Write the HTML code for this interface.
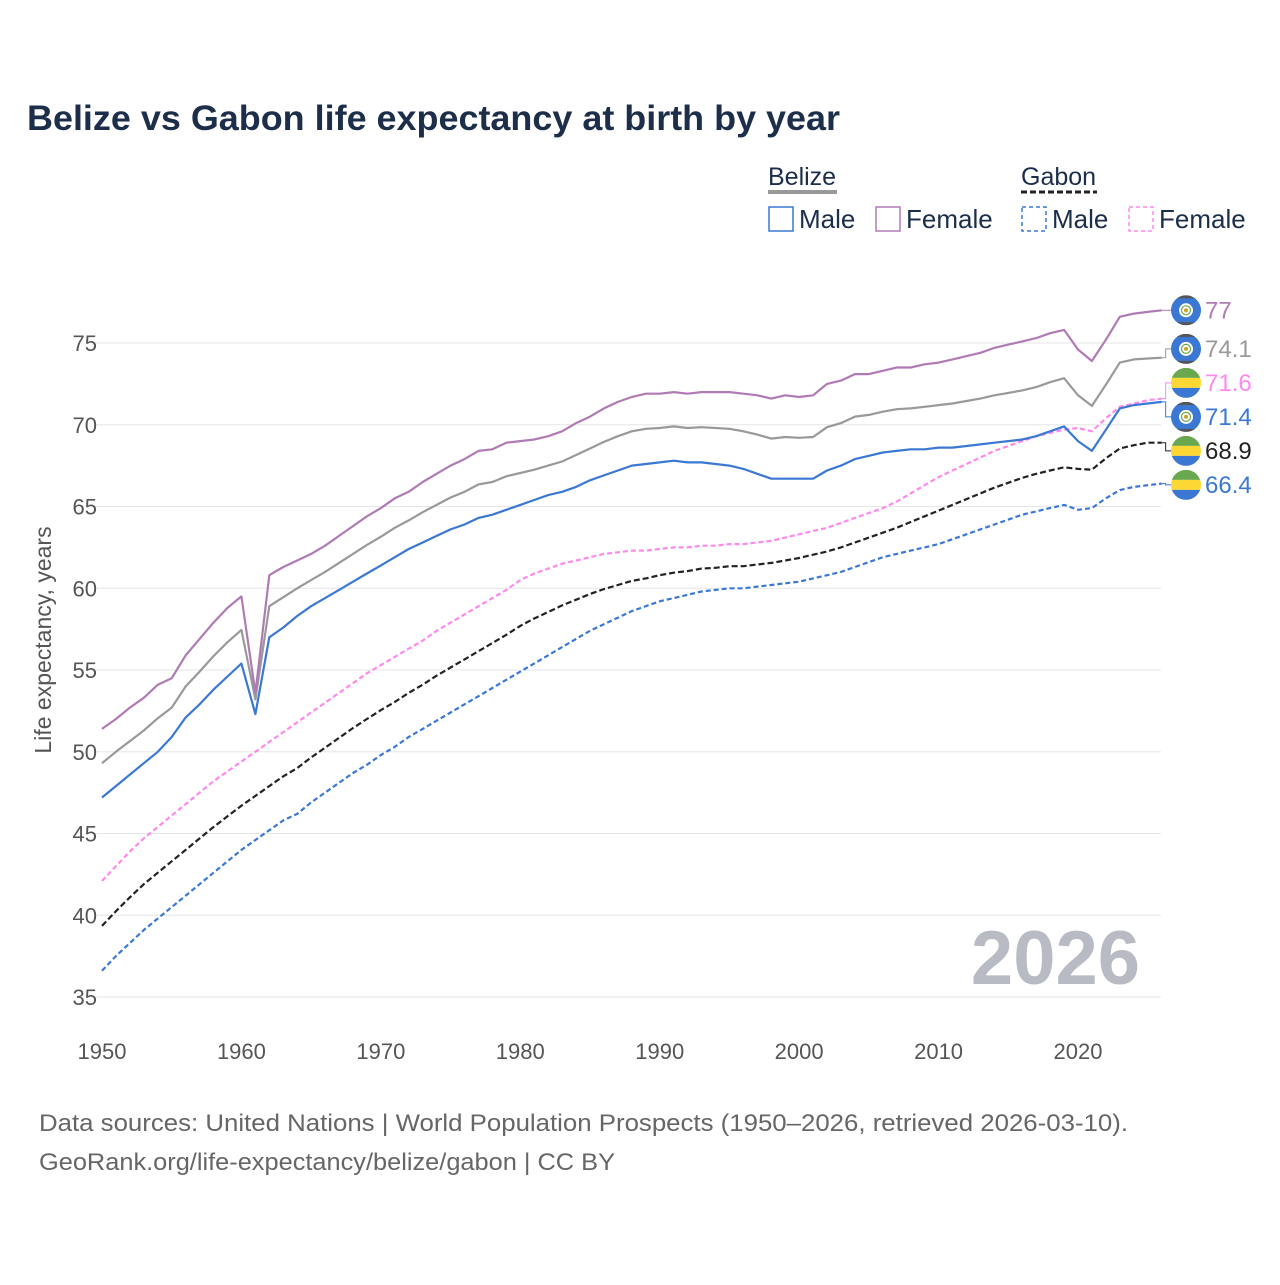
<!DOCTYPE html>
<html><head><meta charset="utf-8"><style>
body{margin:0;background:#fff;width:1280px;height:1280px;overflow:hidden;font-family:"Liberation Sans",sans-serif}
</style></head><body>
<svg id="chart" width="1280" height="1280" viewBox="0 0 1280 1280" xmlns="http://www.w3.org/2000/svg" font-family="Liberation Sans, sans-serif">
<text x="27" y="130" font-size="35" font-weight="bold" fill="#1c2e4a" textLength="813" lengthAdjust="spacingAndGlyphs">Belize vs Gabon life expectancy at birth by year</text>
<g font-size="25" fill="#1c2e4a">
 <text x="768" y="185" fill="#1c2e4a">Belize</text>
 <line x1="768" y1="192" x2="837" y2="192" stroke="#999" stroke-width="4"/>
 <text x="1021" y="185" fill="#1c2e4a">Gabon</text>
 <line x1="1021" y1="192" x2="1097" y2="192" stroke="#222" stroke-width="3" stroke-dasharray="6,3"/>
 <g><rect x="769" y="207" width="24" height="24" fill="none" stroke="#3a78d4" stroke-width="1.5"/><text x="799" y="228" font-size="26">Male</text></g>
 <g><rect x="876" y="207" width="24" height="24" fill="none" stroke="#b07ab5" stroke-width="1.5"/><text x="906" y="228" font-size="26">Female</text></g>
 <g><rect x="1022" y="207" width="24" height="24" fill="none" stroke="#3a78d4" stroke-width="1.5" stroke-dasharray="4,3"/><text x="1052" y="228" font-size="26">Male</text></g>
 <g><rect x="1129" y="207" width="24" height="24" fill="none" stroke="#ff88ee" stroke-width="1.5" stroke-dasharray="4,3"/><text x="1159" y="228" font-size="26">Female</text></g>
</g>
<g id="grid"></g>
<text transform="translate(51,640) rotate(-90)" text-anchor="middle" font-size="23" fill="#555">Life expectancy, years</text>
<text x="1140" y="984" text-anchor="end" font-size="76" font-weight="bold" fill="#b9bbc4">2026</text>
<g id="series"></g>
<g id="labels"></g>
<text x="39" y="1131" font-size="24" fill="#666" textLength="1089" lengthAdjust="spacingAndGlyphs">Data sources: United Nations | World Population Prospects (1950–2026, retrieved 2026-03-10).</text>
<text x="39" y="1170" font-size="24" fill="#666" textLength="576" lengthAdjust="spacingAndGlyphs">GeoRank.org/life-expectancy/belize/gabon | CC BY</text>
</svg>
<script>
const startYear = 1950;
const xTicks = [1950,1960,1970,1980,1990,2000,2010,2020];
const yTicks = [35,40,45,50,55,60,65,70,75];
const belizeFemale = [51.4,52.0,52.7,53.3,54.1,54.5,55.9,56.9,57.9,58.8,59.5,53.6,60.8,61.3,61.7,62.1,62.6,63.2,63.8,64.4,64.9,65.5,65.9,66.5,67.0,67.5,67.9,68.4,68.5,68.9,69.0,69.1,69.3,69.6,70.1,70.5,71.0,71.4,71.7,71.9,71.9,72.0,71.9,72.0,72.0,72.0,71.9,71.8,71.6,71.8,71.7,71.8,72.5,72.7,73.1,73.1,73.3,73.5,73.5,73.7,73.8,74.0,74.2,74.4,74.7,74.9,75.1,75.3,75.6,75.8,74.6,73.9,75.2,76.6,76.8,76.9,77.0];
const belizeTotal = [49.3,50.0,50.65,51.3,52.05,52.7,54.0,54.9,55.85,56.7,57.45,53.2,58.9,59.45,60.0,60.5,61.0,61.55,62.1,62.65,63.15,63.7,64.15,64.65,65.1,65.55,65.9,66.35,66.5,66.85,67.05,67.25,67.5,67.75,68.15,68.55,68.95,69.3,69.6,69.75,69.8,69.9,69.8,69.85,69.8,69.75,69.6,69.4,69.15,69.25,69.2,69.25,69.85,70.1,70.5,70.6,70.8,70.95,71.0,71.1,71.2,71.3,71.45,71.6,71.8,71.95,72.1,72.3,72.6,72.85,71.8,71.15,72.45,73.8,74.0,74.05,74.1];
const belizeMale = [47.2,47.9,48.6,49.3,50.0,50.9,52.1,52.9,53.8,54.6,55.4,52.3,57.0,57.6,58.3,58.9,59.4,59.9,60.4,60.9,61.4,61.9,62.4,62.8,63.2,63.6,63.9,64.3,64.5,64.8,65.1,65.4,65.7,65.9,66.2,66.6,66.9,67.2,67.5,67.6,67.7,67.8,67.7,67.7,67.6,67.5,67.3,67.0,66.7,66.7,66.7,66.7,67.2,67.5,67.9,68.1,68.3,68.4,68.5,68.5,68.6,68.6,68.7,68.8,68.9,69.0,69.1,69.3,69.6,69.9,69.0,68.4,69.7,71.0,71.2,71.3,71.4];
const gabonFemale = [42.1,43.0,43.9,44.7,45.4,46.1,46.8,47.5,48.2,48.8,49.4,50.0,50.6,51.2,51.8,52.4,53.0,53.6,54.2,54.8,55.3,55.8,56.3,56.8,57.4,57.9,58.4,58.9,59.4,59.9,60.5,60.9,61.2,61.5,61.7,61.9,62.1,62.2,62.3,62.3,62.4,62.5,62.5,62.6,62.6,62.7,62.7,62.8,62.9,63.1,63.3,63.5,63.7,64.0,64.3,64.6,64.9,65.3,65.8,66.3,66.8,67.2,67.6,68.0,68.4,68.7,69.0,69.3,69.5,69.7,69.8,69.6,70.4,71.1,71.3,71.5,71.6];
const gabonTotal = [39.35,40.25,41.1,41.9,42.6,43.3,44.0,44.7,45.4,46.05,46.7,47.3,47.9,48.5,49.0,49.65,50.25,50.85,51.45,52.0,52.55,53.05,53.6,54.1,54.65,55.15,55.65,56.15,56.65,57.15,57.7,58.15,58.55,58.95,59.3,59.65,59.95,60.2,60.45,60.6,60.8,60.95,61.05,61.2,61.25,61.35,61.35,61.45,61.55,61.7,61.85,62.05,62.25,62.5,62.8,63.1,63.4,63.7,64.05,64.4,64.75,65.1,65.45,65.8,66.15,66.45,66.75,67.0,67.2,67.4,67.3,67.25,67.95,68.55,68.75,68.9,68.9];
const gabonMale = [36.6,37.5,38.3,39.1,39.8,40.5,41.2,41.9,42.6,43.3,44.0,44.6,45.2,45.8,46.2,46.9,47.5,48.1,48.7,49.2,49.8,50.3,50.9,51.4,51.9,52.4,52.9,53.4,53.9,54.4,54.9,55.4,55.9,56.4,56.9,57.4,57.8,58.2,58.6,58.9,59.2,59.4,59.6,59.8,59.9,60.0,60.0,60.1,60.2,60.3,60.4,60.6,60.8,61.0,61.3,61.6,61.9,62.1,62.3,62.5,62.7,63.0,63.3,63.6,63.9,64.2,64.5,64.7,64.9,65.1,64.8,64.9,65.5,66.0,66.2,66.3,66.4];

const NS="http://www.w3.org/2000/svg";
function xS(yr){return 102+(yr-1950)*(976/70);}
function yS(v){return 343+(75-v)*16.35;}
function mk(tag,attrs,parent){const e=document.createElementNS(NS,tag);for(const k in attrs)e.setAttribute(k,attrs[k]);parent.appendChild(e);return e;}
const grid=document.getElementById('grid');
yTicks.forEach(t=>{
  const l=mk('line',{x1:95,x2:1161,y1:yS(t),y2:yS(t),stroke:'#e6e6e6','stroke-width':1},grid);
  
  
  const tx=mk('text',{x:97,y:yS(t)+8,'text-anchor':'end','font-size':22,fill:'#555'},grid);
  
  
  tx.textContent=t;
});
xTicks.forEach(t=>{
  const tx=mk('text',{x:xS(t),y:1059,'text-anchor':'middle','font-size':22,fill:'#555'},grid);
  
  
  tx.textContent=t;
});
const seriesDefs=[
 {name:'belize-female',data:belizeFemale,color:'#b07ab5',dash:null,flag:'bz',tc:'#b07ab5'},
 {name:'belize-total',data:belizeTotal,color:'#999',dash:null,flag:'bz',tc:'#999'},
 {name:'gabon-female',data:gabonFemale,color:'#ff88ee',dash:'5,3',flag:'ga',tc:'#ff88ee'},
 {name:'belize-male',data:belizeMale,color:'#3a78d4',dash:null,flag:'bz',tc:'#3a78d4'},
 {name:'gabon-total',data:gabonTotal,color:'#222',dash:'6,3',flag:'ga',tc:'#222'},
 {name:'gabon-male',data:gabonMale,color:'#3a78d4',dash:'5,3',flag:'ga',tc:'#3a78d4'}
];
const sg=document.getElementById('series');
const order=['gabon-male','gabon-female','gabon-total','belize-total','belize-female','belize-male'];
order.forEach(n=>{
  const s=seriesDefs.find(d=>d.name===n);
  const pts=s.data.map((v,i)=>xS(startYear+i).toFixed(1)+','+yS(v).toFixed(1)).join(' ');
  const a={points:pts,fill:'none',stroke:s.color,'stroke-width':2.2,'stroke-linejoin':'round'};
  if(s.dash)a['stroke-dasharray']=s.dash;
  const p=mk('polyline',a,sg);
  
  
});
const lg=document.getElementById('labels');
const items=seriesDefs.map(s=>({s,v:s.data[s.data.length-1],y0:yS(s.data[s.data.length-1])}));
items.sort((a,b)=>a.y0-b.y0);
items.forEach(it=>it.y=it.y0);
for(let k=0;k<200;k++){for(let i=1;i<items.length;i++){const d=items[i].y-items[i-1].y;if(d<34){const m=(34-d)/2;items[i].y+=m;items[i-1].y-=m;}}}
const xe=xS(2026);
items.forEach(it=>{
  const g=mk('g',{},lg);
  
  
  mk('polyline',{points:`${xe},${it.y0} ${xe+4},${it.y0} ${xe+4},${it.y} ${xe+10},${it.y}`,fill:'none',stroke:it.s.color,'stroke-width':1},g);
  const cx=1186,cy=it.y,r=15;
  const cid='c'+it.s.name;
  const cp=mk('clipPath',{id:cid},g);mk('circle',{cx,cy,r},cp);
  const fg=mk('g',{'clip-path':`url(#${cid})`},g);
  if(it.s.flag==='ga'){
    mk('rect',{x:cx-r,y:cy-r,width:30,height:10,fill:'#6aa84f'},fg);
    mk('rect',{x:cx-r,y:cy-5,width:30,height:10,fill:'#fdd835'},fg);
    mk('rect',{x:cx-r,y:cy+5,width:30,height:10,fill:'#3a78d4'},fg);
  }else{
    mk('rect',{x:cx-r,y:cy-r,width:30,height:30,fill:'#3a78d4'},fg);
    mk('rect',{x:cx-r,y:cy-r,width:30,height:3,fill:'#555'},fg);
    mk('rect',{x:cx-r,y:cy+r-3,width:30,height:3,fill:'#555'},fg);
    mk('circle',{cx,cy,r:7,fill:'#fff'},fg);
    mk('circle',{cx,cy,r:4.5,fill:'none',stroke:'#6aa84f','stroke-width':1.2},fg);
    mk('circle',{cx,cy,r:2,fill:'#c9a227'},fg);
  }
  const t=mk('text',{x:1205,y:cy+8,'font-size':24,fill:it.s.tc},g);
  t.textContent=(Math.round(it.v*10)/10).toString();
});
</script>
</body></html>
